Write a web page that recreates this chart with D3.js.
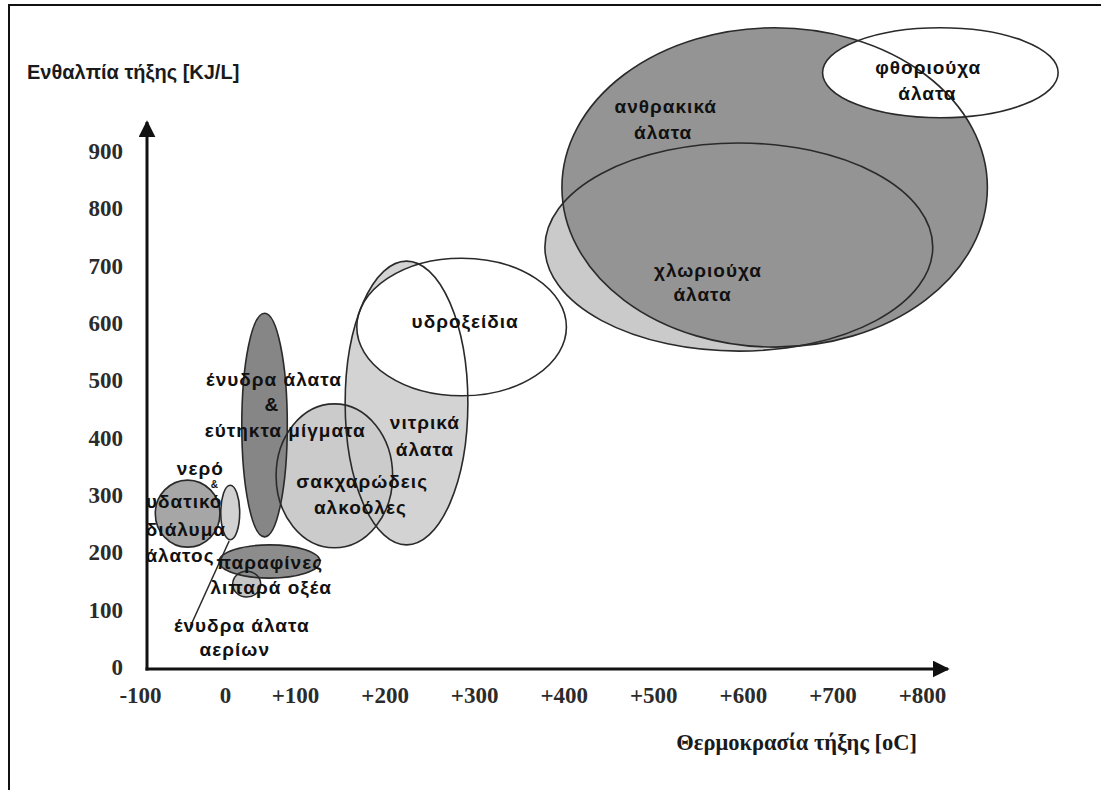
<!DOCTYPE html>
<html>
<head>
<meta charset="utf-8">
<script src="https://cdn.jsdelivr.net/npm/d3@7/dist/d3.min.js"></script>
<style>
    body { margin: 0; background: #fff; }
    svg { display: block; }
</style>
</head>
<body>
<div id="chart"></div>
<script>
// axis ticks
const xTicks = [-100, 0, 100, 200, 300, 400, 500, 600, 700, 800];
const yTicks = [0, 100, 200, 300, 400, 500, 600, 700, 800, 900];

// PCM families: melting temperature range [oC] and melting enthalpy range [KJ/L]
const families = ["χλωριούχα άλατα", "ανθρακικά άλατα", "φθοριούχα άλατα", "νιτρικά άλατα", "υδροξείδια",
    "σακχαρώδεις αλκοόλες", "ένυδρα άλατα & εύτηκτα μίγματα", "λιπαρά οξέα", "παραφίνες",
    "νερό & υδατικό διάλυμα άλατος", "ένυδρα άλατα αερίων"];
const tempMin = [379, 398, 689, 156, 169, 73, 24, 11, -7, -82, -5];
const tempMax = [812, 873, 952, 293, 403, 209, 89, 51, 128, -6, 21];
const enthMin = [551, 558, 958, 213, 473, 208, 227, 122, 155, 209, 222];
const enthMax = [914, 1115, 1115, 708, 713, 459, 617, 167, 213, 326, 317];

// label lines, placed in chart units
const labelText = ["φθοριούχα", "άλατα", "ανθρακικά", "άλατα", "χλωριούχα", "άλατα", "υδροξείδια",
    "νιτρικά", "άλατα", "σακχαρώδεις", "αλκοόλες", "ένυδρα άλατα", "&", "εύτηκτα μίγματα",
    "νερό", "&", "υδατικό", "διάλυμα", "άλατος", "παραφίνες", "λιπαρά οξέα", "ένυδρα άλατα", "αερίων"];
const labelT = [807, 806, 514, 511, 561, 555, 290, 245, 245, 175, 173, 70, 67, 86,
    -29, -12, -48, -46, -53, 64, 66, 24, 14];
const labelH = [1045, 1001, 977, 933, 692, 649, 602, 426, 379, 323, 279, 501, 457, 412,
    347, 319, 288, 239, 195, 183, 138, 73, 30];

// leader line from the gas hydrate label to its ellipse
const leaderT = [-41, 6];
const leaderH = [70, 220];

class PcmChart {
    constructor(parentElement) {
        this.parentElement = parentElement
        this.data = families.map((name, i) => ({
            name: name,
            t0: tempMin[i], t1: tempMax[i],
            h0: enthMin[i], h1: enthMax[i]
        }))
        this.labels = labelText.map((text, i) => ({text: text, t: labelT[i], h: labelH[i], i: i}))
        this.initVis()
    }

    initVis() {
        let vis = this

        vis.width = 1101
        vis.height = 790
        vis.originX = 147
        vis.originY = 669

        vis.svg = d3.select("#" + vis.parentElement).append("svg")
            .attr("width", vis.width)
            .attr("height", vis.height);

        // page frame (top and left edges visible)
        vis.svg.append("path")
            .attr("d", `M9,${vis.height} V5 H${vis.width}`)
            .attr("fill", "none")
            .attr("stroke", "#111")
            .attr("stroke-width", 2);

        // scales: the hand drawn x axis is not evenly spaced below +100
        vis.x = d3.scaleLinear()
            .domain([-100, 0, 100, 800])
            .range([140, 225, 295, 922]);
        vis.y = d3.scaleLinear()
            .domain([0, 900])
            .range([667, 151]);

        vis.color = d3.scaleOrdinal()
            .domain(families)
            .range(["#cacaca", "#949494", "#ffffff", "#d3d3d3", "#ffffff", "#cbcbcb",
                "#868686", "#c6c6c6", "#8c8c8c", "#a6a6a6", "#d2d2d2"]);

        vis.drawShapes()
        vis.drawAxes()
        vis.drawLabels()
    }

    drawShapes() {
        let vis = this

        let ell = sel => sel
            .attr("cx", d => (vis.x(d.t0) + vis.x(d.t1)) / 2)
            .attr("cy", d => (vis.y(d.h0) + vis.y(d.h1)) / 2)
            .attr("rx", d => (vis.x(d.t1) - vis.x(d.t0)) / 2)
            .attr("ry", d => (vis.y(d.h0) - vis.y(d.h1)) / 2);

        // fills first, outlines on top so that they show through
        vis.svg.append("g").attr("class", "fills")
            .selectAll("ellipse")
            .data(vis.data)
            .enter().append("ellipse")
            .call(ell)
            .attr("fill", d => vis.color(d.name))
            .attr("stroke", "none");

        vis.svg.append("g").attr("class", "outlines")
            .selectAll("ellipse")
            .data(vis.data)
            .enter().append("ellipse")
            .call(ell)
            .attr("fill", "none")
            .attr("stroke", "#2a2a2a")
            .attr("stroke-width", 1.6);

        vis.svg.append("line")
            .attr("x1", vis.x(leaderT[0]))
            .attr("y1", vis.y(leaderH[0]))
            .attr("x2", vis.x(leaderT[1]))
            .attr("y2", vis.y(leaderH[1]))
            .attr("stroke", "#2a2a2a")
            .attr("stroke-width", 1.4);
    }

    drawAxes() {
        let vis = this

        let defs = vis.svg.append("defs");
        defs.append("marker")
            .attr("id", "arrow")
            .attr("viewBox", "0 0 10 10")
            .attr("refX", 9)
            .attr("refY", 5)
            .attr("markerUnits", "userSpaceOnUse")
            .attr("markerWidth", 17)
            .attr("markerHeight", 17)
            .attr("orient", "auto")
            .append("path")
            .attr("d", "M0,0 L10,5 L0,10 z")
            .attr("fill", "#111");

        vis.svg.append("line")
            .attr("x1", vis.originX).attr("y1", vis.originY + 1.5)
            .attr("x2", vis.originX).attr("y2", 122)
            .attr("stroke", "#111").attr("stroke-width", 3)
            .attr("marker-end", "url(#arrow)");

        vis.svg.append("line")
            .attr("x1", vis.originX - 1.5).attr("y1", vis.originY)
            .attr("x2", 948).attr("y2", vis.originY)
            .attr("stroke", "#111").attr("stroke-width", 3)
            .attr("marker-end", "url(#arrow)");

        let xAxis = d3.axisBottom(vis.x)
            .tickValues(xTicks)
            .tickSize(0)
            .tickPadding(18)
            .tickFormat(d => d > 0 ? "+" + d : String(d));

        let yAxis = d3.axisLeft(vis.y)
            .tickValues(yTicks)
            .tickSize(0)
            .tickPadding(24)
            .tickFormat(d => String(d));

        let gx = vis.svg.append("g")
            .attr("class", "x-axis axis")
            .attr("transform", `translate(0, ${vis.originY})`)
            .call(xAxis);

        let gy = vis.svg.append("g")
            .attr("class", "y-axis axis")
            .attr("transform", `translate(${vis.originX}, 0)`)
            .call(yAxis);

        [gx, gy].forEach(g => {
            g.select(".domain").remove();
            g.selectAll("text")
                .attr("font-family", "'Liberation Serif', 'Times New Roman', serif")
                .attr("font-weight", "bold")
                .attr("font-size", 23)
                .attr("fill", "#2b2b2b");
        });

        vis.svg.append("text")
            .attr("x", 27)
            .attr("y", 72)
            .attr("dominant-baseline", "central")
            .attr("font-family", "'Liberation Sans', Arial, sans-serif")
            .attr("font-weight", "bold")
            .attr("font-size", 20)
            .attr("fill", "#1a1a1a")
            .text("Ενθαλπία τήξης [KJ/L]");

        vis.svg.append("text")
            .attr("x", 917)
            .attr("y", 742)
            .attr("text-anchor", "end")
            .attr("dominant-baseline", "central")
            .attr("font-family", "'Liberation Serif', 'Times New Roman', serif")
            .attr("font-weight", "bold")
            .attr("font-size", 22.5)
            .attr("fill", "#1a1a1a")
            .text("Θερμοκρασία τήξης [oC]");
    }

    drawLabels() {
        let vis = this

        vis.svg.append("g").attr("class", "labels")
            .selectAll("text")
            .data(vis.labels)
            .enter().append("text")
            .attr("x", d => vis.x(d.t))
            .attr("y", d => vis.y(d.h))
            .attr("text-anchor", "middle")
            .attr("dominant-baseline", "central")
            .attr("font-family", "'Liberation Sans', Arial, sans-serif")
            .attr("font-weight", "bold")
            // the "&" in the water label is squeezed in small
            .attr("font-size", d => d.i === 15 ? 10 : 19)
            .attr("letter-spacing", 1)
            .attr("fill", "#111")
            .text(d => d.text);
    }
}

new PcmChart("chart");
</script>
</body>
</html>
